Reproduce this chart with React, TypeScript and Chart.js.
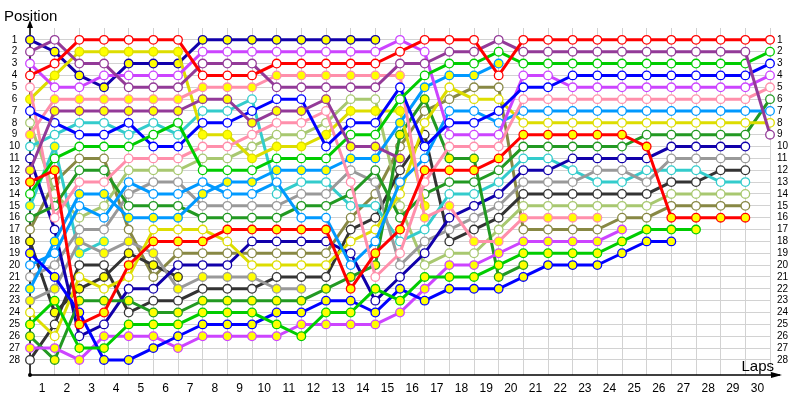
import { useEffect, useRef } from "react";
import { Chart, registerables } from "chart.js";

Chart.register(...registerables);

// Lap labels shown under the axis (lap i sits between column i-1 and i)
const lapLabels = Array.from({ length: 30 }, (_, i) => String(i + 1));
const positionTicks = Array.from({ length: 28 }, (_, i) => i + 1);

// Positions per column (column 0 = grid, then laps 1..30)
const redW = [4,3,1,1,1,1,1,4,4,4,3,3,3,3,3,2,1,1,1,4,1,1,1,1,1,1,1,1,1,1,1];
const redY = [13,12,25,24,20,18,18,18,17,17,17,17,17,22,19,17,12,12,12,11,9,9,9,9,9,10,16,16,16,16];
const purpleW = [2,1,3,3,5,5,5,3,3,3,5,5,5,5,5,3,3,2,2,1,2,2,2,2,2,2,2,2,2,2,9];
const purpleY = [12,7,7,7,7,7,7,6,6,8,7,7,6,10,10,11];
const greenW = [14,11,10,10,10,9,8,12,12,12,11,11,11,9,9,6,4,3,3,2,3,3,3,3,3,3,3,3,3,3,2];
const greenY = [25,23,27,27,25,25,25,24,24,24,25,26,24,24,22,23,21,21,21,20,19,19,19,19,18,17,17,17];
const blueW = [7,8,9,9,8,10,10,8,8,7,6,6,10,8,8,5,10,8,8,7,5,5,4,4,4,4,4,4,4,4,3];
const blueY = [19,21,24,28,28,27,26,25,25,25,24,24,23,23,24,22,23,22,22,22,21,20,20,20,19,18,18];
const violetW = [3,5,5,4,4,4,4,2,2,2,2,2,2,2,2,1,2,9,9,9,4,4,5,5,5,5,5,5,5,5,4];
const violetY = [27,27,28,26,26,26,27,26,26,26,26,25,25,25,25,24,22,20,20,19,18,18,18,18,17];
const pinkW = [5,16,13,13,11,11,11,10,10,9,8,8,7,13,21,19,13,10,10,10,6,6,6,6,6,6,6,6,6,6,5];
const pinkY = [9,6,6,6,6,6,6,5,5,5,4,4,4,4,4,4,16,15,18,18,16,16,16,16];
const skyW = [20,19,15,16,13,14,14,13,14,14,13,16,16,20,18,13,11,7,7,8,7,7,7,7,7,7,7,7,7,7,7];
const skyY = [22,18,14,14,16,16,16,14,13,13,12,12,12,11,11,8,5,4,4,3];
const yellowW = [24,26,21,22,21,17,17,17,18,20,20,20,20,18,17,14,8,5,6,6,8,8,8,8,8,8,8,8,8,8,8];
const yellowY = [6,4,2,2,2,2,2,9,9,11,10,10,9,7,7,7,15];
const forestW = [16,15,12,12,15,15,15,16,16,16,16,15,15,14,12,16,14,13,13,12,10,10,10,10,10,9,9,9,9,9,6];
const forestY = [26,28,23,23,23,24,24,23,23,23,23,23,22,21,20,9,6,11,11,21,20];
const navyW = [11,17,26,25,22,22,20,20,20,18,18,18,18,19,23,21,19,16,15,14,12,12,11,11,11,11,10,10,10,10];
const navyY = [1,2,4,5,3,3,3,1,1,1,1,1,1,1,1];
const grayW = [21,20,17,17,14,13,13,15,15,15,15,14,14,12,13,20,18,17,16,15,13,13,13,12,12,13,11,11,11,11];
const grayY = [23,22,18,19,18,19,22,21,21,21,22,22];
const cyanW = [10,9,8,8,9,8,9,7,7,6,14,13,13,15,15,18,17,14,14,13,11,11,12,13,13,12,12,12,13,13];
const cyanY = [15,10,19,18];
const darkW = [28,25,20,20,24,23,23,22,22,22,21,21,21,17,16,12,9,18,17,16,14,14,14,14,14,14,13,13,12,12];
const darkY = [18,24,22,21,19,20,21];
const lightGreenW = [8,14,16,15,12,12,12,11,11,10,9,9,8,6,6,15,20,19,19,17,15,15,15,15,15,15,14,14,14,14];
const oliveW = [17,13,11,11,17,21,19,19,19,19,19,19,19,16,14,10,7,6,5,5,17,17,17,17,16,16,15,15,15,15];

const WHITE = "#ffffff";
const YELLOW = "#ffff00";

const drivers = [
  { name: "Red A", color: "#ff0000", fill: WHITE, pos: redW },
  { name: "Red B", color: "#ff0000", fill: YELLOW, pos: redY },
  { name: "Purple A", color: "#933a98", fill: WHITE, pos: purpleW },
  { name: "Purple B", color: "#933a98", fill: YELLOW, pos: purpleY },
  { name: "Green A", color: "#00cc00", fill: WHITE, pos: greenW },
  { name: "Green B", color: "#00cc00", fill: YELLOW, pos: greenY },
  { name: "Blue A", color: "#0000ff", fill: WHITE, pos: blueW },
  { name: "Blue B", color: "#0000ff", fill: YELLOW, pos: blueY },
  { name: "Violet A", color: "#cc44ff", fill: WHITE, pos: violetW },
  { name: "Violet B", color: "#cc44ff", fill: YELLOW, pos: violetY },
  { name: "Pink A", color: "#ff8fab", fill: WHITE, pos: pinkW },
  { name: "Pink B", color: "#ff8fab", fill: YELLOW, pos: pinkY },
  { name: "Sky A", color: "#0099ff", fill: WHITE, pos: skyW },
  { name: "Sky B", color: "#0099ff", fill: YELLOW, pos: skyY },
  { name: "Yellow A", color: "#dddd00", fill: WHITE, pos: yellowW },
  { name: "Yellow B", color: "#dddd00", fill: YELLOW, pos: yellowY },
  { name: "Forest A", color: "#229922", fill: WHITE, pos: forestW },
  { name: "Forest B", color: "#229922", fill: YELLOW, pos: forestY },
  { name: "Navy A", color: "#1100aa", fill: WHITE, pos: navyW },
  { name: "Navy B", color: "#1100aa", fill: YELLOW, pos: navyY },
  { name: "Gray A", color: "#999999", fill: WHITE, pos: grayW },
  { name: "Gray B", color: "#999999", fill: YELLOW, pos: grayY },
  { name: "Cyan A", color: "#33cccc", fill: WHITE, pos: cyanW },
  { name: "Cyan B", color: "#33cccc", fill: YELLOW, pos: cyanY },
  { name: "Dark A", color: "#333333", fill: WHITE, pos: darkW },
  { name: "Dark B", color: "#333333", fill: YELLOW, pos: darkY },
  { name: "Light green", color: "#a8c870", fill: WHITE, pos: lightGreenW },
  { name: "Olive", color: "#888844", fill: WHITE, pos: oliveW },
];

const FONT = "'Liberation Sans', Arial, sans-serif";

const decor = {
  id: "decor",
  beforeDatasetsDraw(chart: any) {
    const { ctx, chartArea } = chart;
    const { left, right, top, bottom } = chartArea;
    ctx.save();
    ctx.strokeStyle = "#000";
    ctx.fillStyle = "#000";
    ctx.lineWidth = 1.5;
    ctx.beginPath();
    ctx.moveTo(left, bottom);
    ctx.lineTo(left, top - 4);
    ctx.moveTo(left, bottom);
    ctx.lineTo(right + 10, bottom);
    ctx.stroke();
    // arrow heads
    ctx.beginPath();
    ctx.moveTo(left, top - 8);
    ctx.lineTo(left - 3, top);
    ctx.lineTo(left + 3, top);
    ctx.closePath();
    ctx.fill();
    ctx.beginPath();
    ctx.moveTo(right + 12, bottom);
    ctx.lineTo(right + 1, bottom - 3);
    ctx.lineTo(right + 1, bottom + 3);
    ctx.closePath();
    ctx.fill();
    ctx.beginPath();
    ctx.arc(left, bottom, 2, 0, Math.PI * 2);
    ctx.fill();
    ctx.restore();
  },
  afterDraw(chart: any) {
    const { ctx, chartArea } = chart;
    ctx.save();
    ctx.fillStyle = "#000";
    ctx.font = `15px ${FONT}`;
    ctx.textBaseline = "alphabetic";
    ctx.textAlign = "left";
    ctx.fillText("Position", 4, 21);
    ctx.textAlign = "right";
    ctx.fillText("Laps", chartArea.right + 4, chartArea.bottom - 4);
    ctx.restore();
  },
};

export default function App() {
  const ref = useRef<HTMLCanvasElement | null>(null);

  useEffect(() => {
    if (!ref.current) return;
    const chart = new Chart(ref.current, {
      type: "line",
      data: {
        datasets: drivers.map((d) => ({
          label: d.name,
          data: d.pos.map((p, i) => ({ x: i, y: p })),
          borderColor: d.color,
          backgroundColor: d.color,
          pointBackgroundColor: d.fill,
          pointBorderColor: d.color,
          borderWidth: 3,
          pointRadius: 4.3,
          pointBorderWidth: 1.3,
          tension: 0,
          clip: false as any,
        })),
      },
      options: {
        animation: false,
        responsive: false,
        maintainAspectRatio: false,
        layout: { padding: { top: 28, left: 0, right: 0, bottom: 0 } },
        plugins: { legend: { display: false }, tooltip: { enabled: false } },
        scales: {
          x: {
            type: "linear",
            min: 0,
            max: 30,
            position: "bottom",
            border: { display: false },
            grid: { color: "#d2d2d2", lineWidth: 1, drawTicks: false },
            afterBuildTicks: (scale: any) => {
              scale.ticks = [0, ...lapLabels.map((_, i) => i + 1)].map((v) => ({ value: v }));
            },
            ticks: {
              autoSkip: false,
              maxRotation: 0,
              padding: 6,
              labelOffset: -12.5,
              color: "#000",
              font: { family: FONT, size: 12 },
              callback: (v: any) => (v === 0 ? "" : lapLabels[Number(v) - 1]),
            },
            afterFit: (scale: any) => {
              scale.height = 25;
            },
          },
          y: {
            type: "linear",
            reverse: true,
            min: 0,
            max: 29.27,
            position: "left",
            border: { display: false },
            grid: { color: "#d2d2d2", lineWidth: 1, drawTicks: false },
            afterBuildTicks: (scale: any) => {
              scale.ticks = positionTicks.map((v) => ({ value: v }));
            },
            ticks: {
              autoSkip: false,
              crossAlign: "center",
              padding: 10,
              color: "#000",
              font: { family: FONT, size: 10 },
            },
            afterFit: (scale: any) => {
              scale.width = 30;
            },
          },
          y2: {
            type: "linear",
            reverse: true,
            min: 0,
            max: 29.27,
            position: "right",
            border: { display: false },
            grid: { display: false, drawTicks: false },
            afterBuildTicks: (scale: any) => {
              scale.ticks = positionTicks.map((v) => ({ value: v }));
            },
            ticks: {
              autoSkip: false,
              crossAlign: "near",
              padding: 7,
              color: "#000",
              font: { family: FONT, size: 10 },
            },
            afterFit: (scale: any) => {
              scale.width = 30;
            },
          },
        },
      },
      plugins: [decor],
    });
    return () => chart.destroy();
  }, []);

  return (
    <div style={{ position: "fixed", left: 0, top: 0, width: 800, height: 400, background: "#fff" }}>
      <canvas ref={ref} width={800} height={400} style={{ width: 800, height: 400 }} />
    </div>
  );
}
